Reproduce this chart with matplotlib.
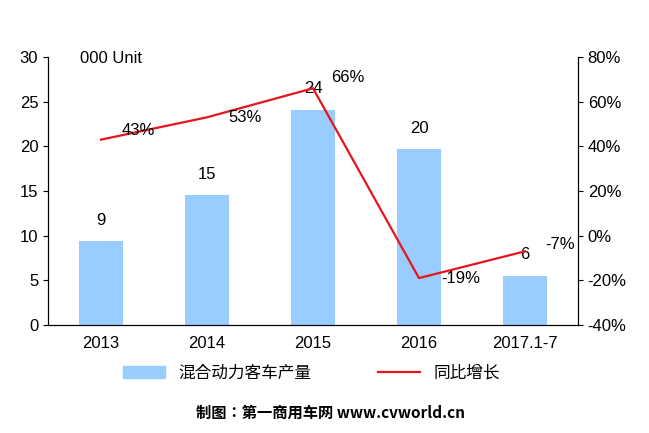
import matplotlib
matplotlib.use("Agg")
import matplotlib.pyplot as plt
from matplotlib import font_manager as fm
import numpy as np

plt.rcParams["font.family"] = "Liberation Sans"

# locate CJK font files directly (regular for legend, bold for footer)
cjk_files = sorted(f for f in fm.findSystemFonts() if "cjk" in f.lower())
regular = [f for f in cjk_files if "Regular" in f] or cjk_files
bold = [f for f in cjk_files if "Bold" in f] or cjk_files
CJK_REG = fm.FontProperties(fname=regular[0], size=12)
CJK_BOLD = fm.FontProperties(fname=bold[0], size=11)

years = ["2013", "2014", "2015", "2016", "2017.1-7"]
output = [9.4, 14.5, 24.1, 19.7, 5.5]
output_labels = ["9", "15", "24", "20", "6"]
growth = [43, 53, 66, -19, -7]
growth_labels = ["43%", "53%", "66%", "-19%", "-7%"]

fig = plt.figure(figsize=(6.49, 4.33), dpi=100)
ax = fig.add_axes([48 / 649, 1 - 325 / 433, 530 / 649, 268 / 433])
x = np.arange(len(years))
ax.bar(x, output, width=0.42, color="#99CCFF", zorder=2)
for xi, v, lab in zip(x, output, output_labels):
    ax.text(xi, v + 1.5, lab, ha="center", va="bottom", fontsize=12)
ax.set_ylim(0, 30)
ax.set_xlim(-0.5, 4.5)
ax.set_yticks(range(0, 31, 5))
ax.set_xticks(x)
ax.set_xticklabels(years, fontsize=12)
ax.tick_params(axis="y", labelsize=12, direction="out")
ax.tick_params(axis="x", length=0, pad=8)
ax.spines["top"].set_visible(False)
ax.text(-0.2, 29.8, "000 Unit", fontsize=12, va="center")

ax2 = ax.twinx()
ax2.plot(x, growth, color="#E8141B", lw=1.6, zorder=3)
ax2.set_ylim(-40, 80)
ax2.set_yticks(range(-40, 81, 20))
ax2.set_yticklabels([f"{t}%" for t in range(-40, 81, 20)], fontsize=12)
ax2.spines["top"].set_visible(False)
offsets = [(0.35, 4), (0.36, 0), (0.33, 5), (0.39, 0), (0.33, 3)]
for xi, g, lab, (dx, dy) in zip(x, growth, growth_labels, offsets):
    ax2.text(xi + dx, g + dy, lab, ha="center", va="center", fontsize=12)

h1 = plt.Rectangle((0, 0), 1, 1, color="#99CCFF")
h2 = plt.Line2D([], [], color="#E8141B", lw=1.6)
fig.legend([h1, h2], ["混合动力客车产量", "同比增长"], loc="center",
           bbox_to_anchor=(0.48, 1 - 373 / 433), ncol=2, frameon=False,
           prop=CJK_REG, columnspacing=4, handlelength=2.5)
fig.text(0.51, 1 - 413 / 433, "制图：第一商用车网 www.cvworld.cn", ha="center",
         va="center", fontproperties=CJK_BOLD)
fig.savefig("out.png", dpi=100)
